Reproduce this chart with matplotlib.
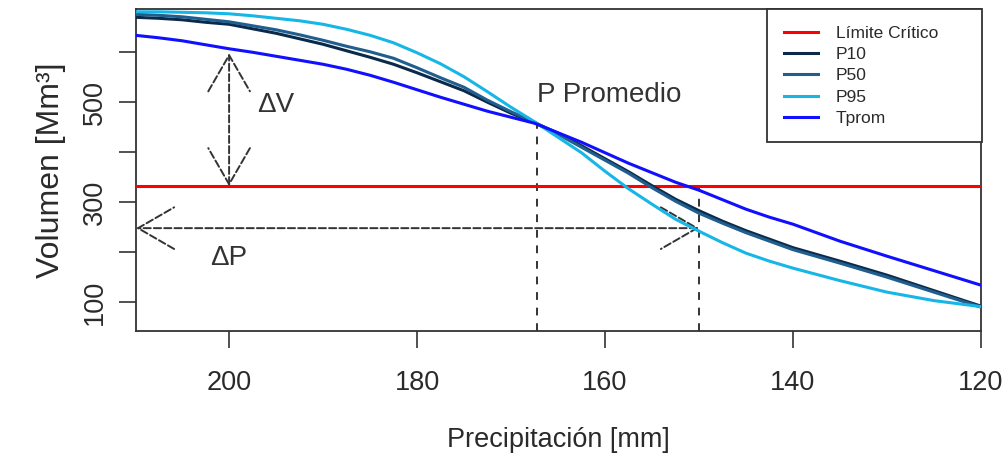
import numpy as np
import matplotlib
matplotlib.use('Agg')
from matplotlib import pyplot as plt

plt.rcParams['font.family'] = ['Liberation Sans', 'DejaVu Sans']

# precipitation grid (mm) and volumes (Mm3)
precip = [210, 207.5, 205, 202.5, 200, 197.5, 195, 192.5, 190, 187.5,
          185, 182.5, 180, 177.5, 175, 172.5, 170, 167.5, 165, 162.5,
          160, 157.5, 155, 152.5, 150, 147.5, 145, 142.5, 140, 135,
          130, 125, 120]
p10 = [670, 668, 665, 660, 656, 647, 638, 627, 616, 603,
       590, 576, 559, 541, 523, 500, 478, 459, 438, 413,
       387, 361, 333, 306, 283, 262, 243, 226, 209, 182,
       154, 123, 92]
p50 = [676, 674, 671, 666, 661, 653, 645, 635, 624, 612,
       601, 588, 569, 549, 530, 504, 481, 460, 436, 410,
       384, 358, 329, 302, 278, 258, 239, 222, 205, 178,
       150, 120, 90]
p95 = [681, 681, 680, 679, 677, 673, 668, 663, 656, 646,
       634, 619, 599, 577, 551, 521, 490, 461, 430, 399,
       362, 327, 296, 266, 242, 219, 198, 182, 168, 143,
       120, 103, 91]
tprom = [634, 629, 623, 615, 607, 600, 592, 584, 576, 566,
         554, 540, 525, 510, 496, 482, 470, 458, 439, 420,
         399, 378, 359, 340, 324, 305, 286, 270, 256, 222,
         192, 163, 134]

v_lim = 332        # limite critico
p_prom = 167.2     # precipitacion promedio
v_prom = 458       # volumen en p promedio
p_lim = 150        # precipitacion que da el limite
v_dp = 248         # altura de la flecha delta P
p_dv = 200         # posicion de la flecha delta V
v_dv_top = 598

x_ticks = [200, 180, 160, 140, 120]
y_ticks = [100, 200, 300, 400, 500, 600]
y_labels = ['100', '', '300', '', '500', '']

x_lim = (209.9, 120)
y_lim = (42, 686)

fig = plt.figure(figsize=(10.08, 4.65), dpi=100)
ax = fig.add_axes([0.135, 0.288, 0.838, 0.692])

dash = (0, (4, 4))
dcol = '#333333'

# guide lines
ax.plot([p_prom, p_prom], [y_lim[0], v_prom], color=dcol, lw=1.4, linestyle=dash)
ax.plot([p_lim, p_lim], [y_lim[0], v_lim], color=dcol, lw=1.4, linestyle=dash)

ax.axhline(v_lim, color='#ff0000', lw=2.2, label='Límite Crítico', zorder=3)
ax.plot(precip, p10, color='#0b2a4a', lw=2.2, label='P10', zorder=4)
ax.plot(precip, p50, color='#1f5e8e', lw=2.2, label='P50', zorder=4)
ax.plot(precip, p95, color='#16b6e6', lw=2.2, label='P95', zorder=4)
ax.plot(precip, tprom, color='#1010ff', lw=2.2, label='Tprom', zorder=4)

arrow_style = '<->,head_length=2.6,head_width=1.5'
ax.annotate('', xy=(p_dv, v_dv_top), xytext=(p_dv, v_lim),
            arrowprops=dict(arrowstyle=arrow_style, mutation_scale=10,
                            color=dcol, lw=1.4, linestyle='--',
                            shrinkA=0, shrinkB=0))
ax.annotate('', xy=(x_lim[0], v_dp), xytext=(p_lim, v_dp),
            arrowprops=dict(arrowstyle=arrow_style, mutation_scale=10,
                            color=dcol, lw=1.4, linestyle='--',
                            shrinkA=0, shrinkB=0))

ax.text(p_prom, 514, 'P Promedio', fontsize=20, color='#333333',
        ha='left', va='center')
ax.text(197, 494, 'ΔV', fontsize=20, color='#333333', ha='left', va='center')
ax.text(202, 188, 'ΔP', fontsize=20, color='#333333', ha='left', va='center')

ax.set_xlim(*x_lim)
ax.set_ylim(*y_lim)
ax.set_xticks(x_ticks)
ax.set_yticks(y_ticks)
ax.set_yticklabels(y_labels)

ax.tick_params(axis='both', length=12, width=1.2, color='#333333',
               labelsize=19.5, labelcolor='#2a2a2a')
ax.tick_params(axis='x', pad=16)
ax.tick_params(axis='y', pad=8, labelrotation=90)
for lab in ax.get_yticklabels():
    lab.set_va('center')

for sp in ax.spines.values():
    sp.set_color('#333333')
    sp.set_linewidth(1.3)

ax.set_xlabel('Precipitación [mm]', fontsize=19.5, color='#2a2a2a', labelpad=22)
ax.set_ylabel('Volumen [Mm³]', fontsize=23, color='#2a2a2a', labelpad=12)

leg = ax.legend(loc='upper right', bbox_to_anchor=(0.747, 0.0, 0.2545, 1.0),
                mode='expand', borderaxespad=0, fontsize=12.5, frameon=True,
                fancybox=False, framealpha=1, edgecolor='#333333',
                borderpad=0.95, labelspacing=0.35, handlelength=2.0,
                handletextpad=1.0)
leg.get_frame().set_linewidth(1.3)
for t in leg.get_texts():
    t.set_color('#2a2a2a')

fig.savefig('out.png', dpi=100)
